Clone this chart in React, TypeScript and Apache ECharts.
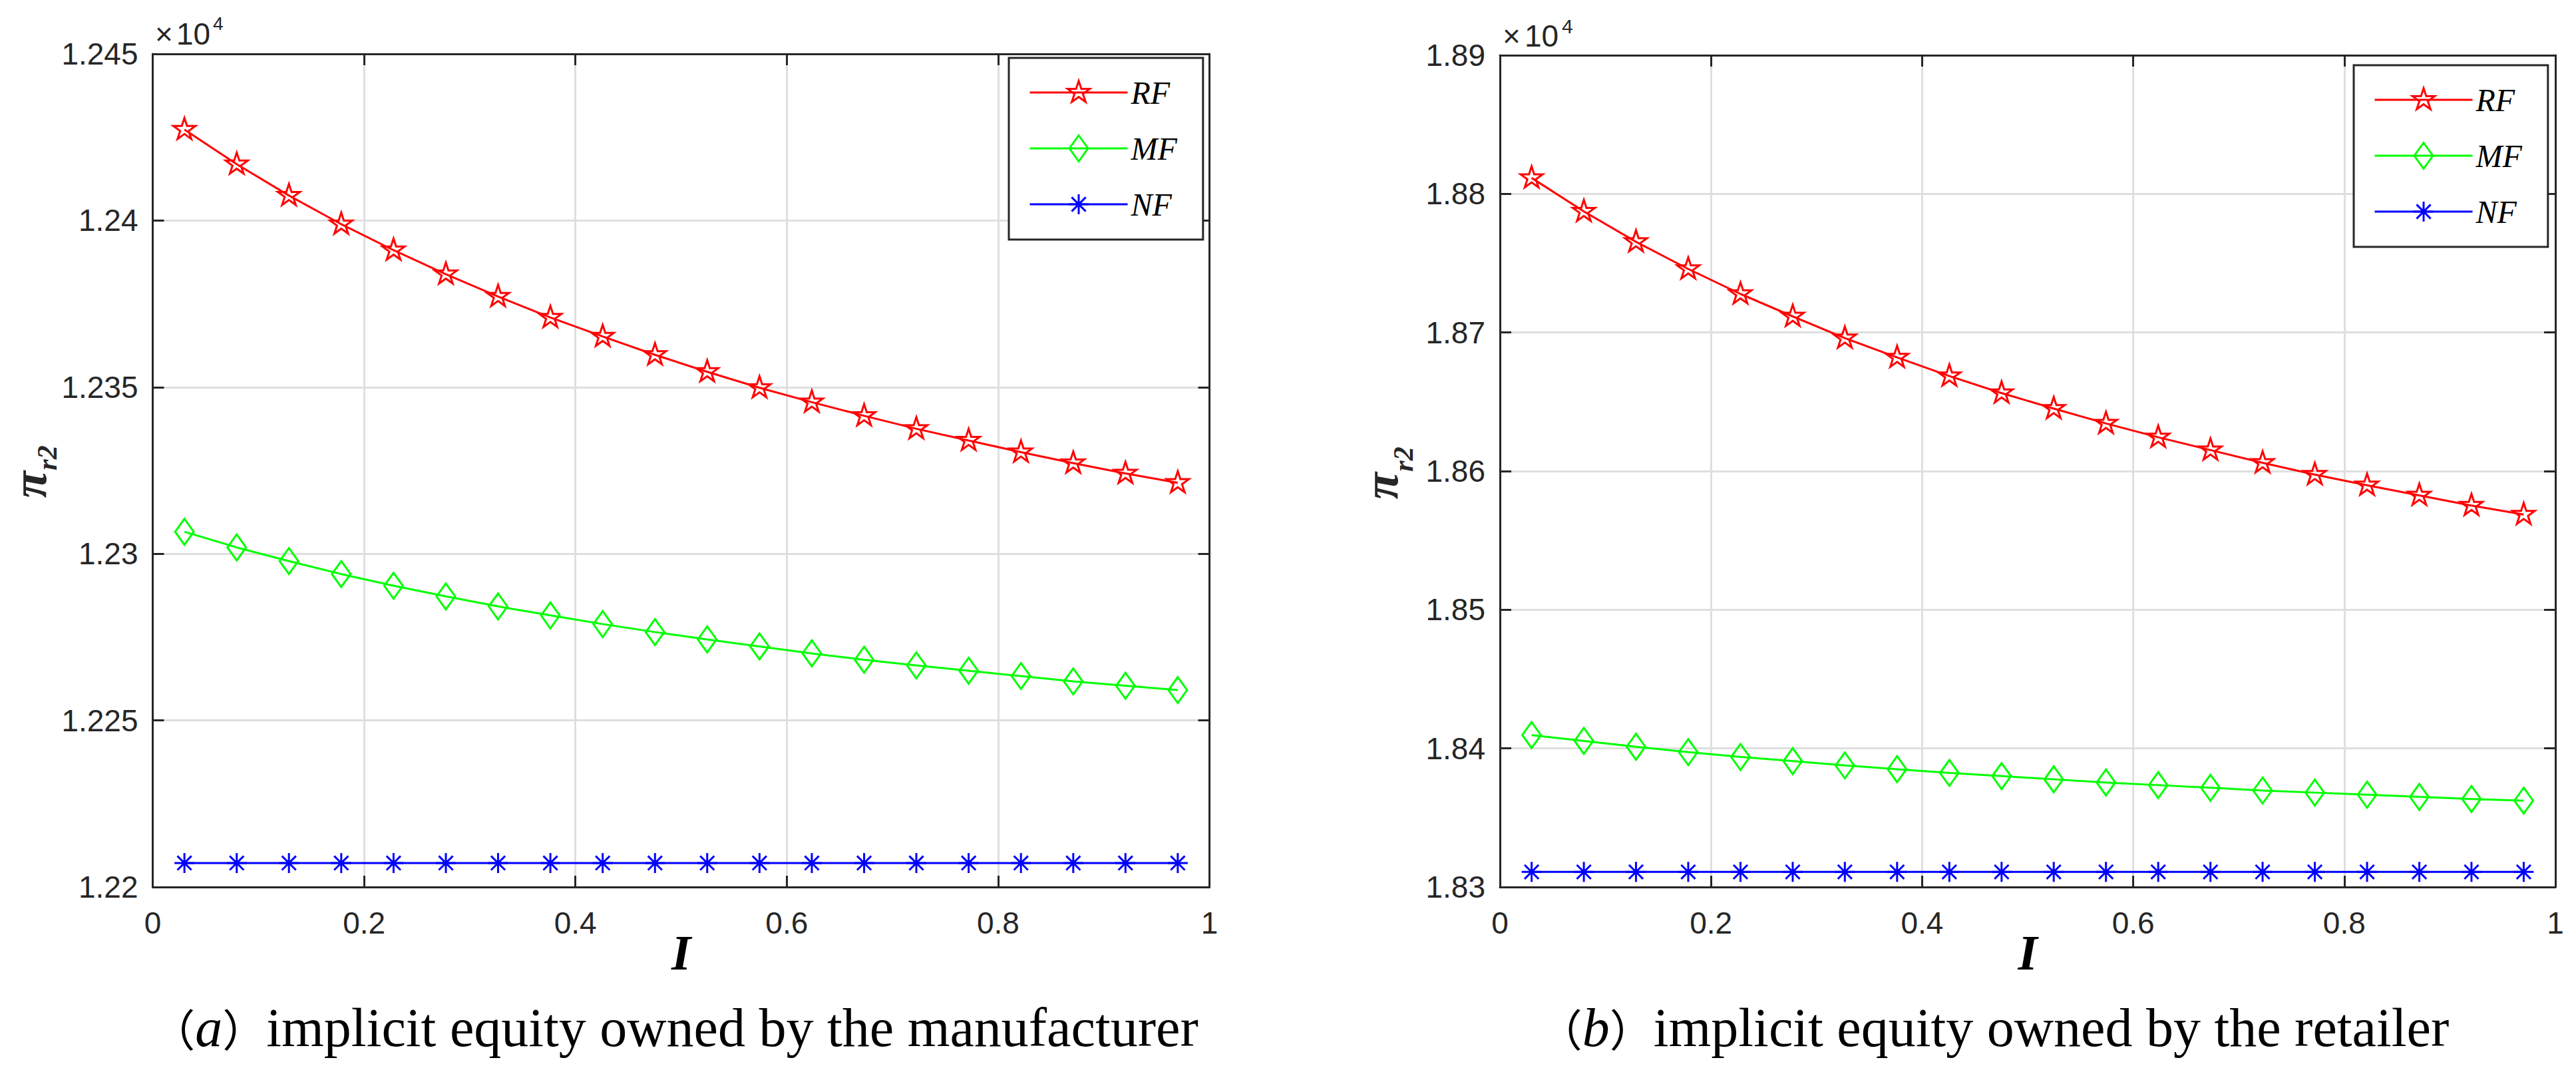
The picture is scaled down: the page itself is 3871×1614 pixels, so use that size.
import React, { useEffect, useRef } from 'react';
import * as echarts from 'echarts';

// implicit equity share I (x positions of the markers)
const xs = [
  0.03, 0.0795, 0.1289, 0.1784, 0.2279, 0.2774, 0.3268, 0.3763, 0.4258, 0.4753,
  0.5247, 0.5742, 0.6237, 0.6732, 0.7226, 0.7721, 0.8216, 0.8711, 0.9205, 0.97,
];

// (a) implicit equity owned by the manufacturer
const rfA = [
  12427.3, 12416.9, 12407.5, 12398.9, 12391.1, 12383.9, 12377.2, 12370.9, 12365.2, 12359.7,
  12354.6, 12349.8, 12345.5, 12341.4, 12337.5, 12334.0, 12330.5, 12327.2, 12324.1, 12321.3,
];
const mfA = [
  12306.6, 12301.9, 12297.8, 12293.9, 12290.4, 12287.2, 12284.2, 12281.5, 12278.9, 12276.5,
  12274.3, 12272.2, 12270.1, 12268.2, 12266.5, 12264.9, 12263.3, 12261.7, 12260.4, 12259.1,
];
const nfA = [
  12207.2, 12207.2, 12207.2, 12207.2, 12207.2, 12207.2, 12207.2, 12207.2, 12207.2, 12207.2,
  12207.2, 12207.2, 12207.2, 12207.2, 12207.2, 12207.2, 12207.2, 12207.2, 12207.2, 12207.2,
];

// (b) implicit equity owned by the retailer
const rfB = [
  18811.5, 18787.3, 18765.4, 18745.8, 18727.8, 18711.6, 18695.9, 18682.0, 18668.6, 18656.3,
  18645.1, 18634.4, 18624.4, 18615.2, 18606.0, 18597.5, 18589.8, 18582.5, 18575.2, 18568.7,
];
const mfB = [
  18409.6, 18405.4, 18401.2, 18397.3, 18393.8, 18390.8, 18387.7, 18385.0, 18382.3, 18380.0,
  18377.7, 18375.4, 18373.5, 18371.6, 18369.6, 18368.1, 18366.6, 18365.0, 18363.5, 18362.3,
];
const nfB = [
  18310.9, 18310.9, 18310.9, 18310.9, 18310.9, 18310.9, 18310.9, 18310.9, 18310.9, 18310.9,
  18310.9, 18310.9, 18310.9, 18310.9, 18310.9, 18310.9, 18310.9, 18310.9, 18310.9, 18310.9,
];

const seriesNames = ['RF', 'MF', 'NF'];
const seriesColors = ['#ff0000', '#00ff00', '#0000ff'];

// y axis ranges per panel: [min, max, interval]
const yRangeA = [12200, 12450, 50];
const yRangeB = [18300, 18900, 100];

const captionA = 'implicit equity owned by the manufacturer';
const captionB = 'implicit equity owned by the retailer';

// hollow MATLAB-like markers, padded to a 44x44 box so legend and plot match
const STAR =
  'path://M0 0M44 44M22 4.5L25.93 16.59L38.64 16.59L28.36 24.07L32.29 36.16L22 28.69L11.71 36.16L15.64 24.07L5.36 16.59L18.07 16.59Z';
const DIAMOND = 'path://M0 0M44 44M22 2.5L36 22L22 41.5L8 22Z';
const ASTERISK =
  'path://M0 0M44 44M22 7L22 37M11.4 11.4L32.6 32.6M32.6 11.4L11.4 32.6M7 22L37 22';
const symbols = [STAR, DIAMOND, ASTERISK];

const AXIS = '#262626';
const GRIDLINE = '#dfdfdf';

const xAxesFor = (gridIndex: number) => {
  const base: any = {
    gridIndex,
    type: 'value',
    min: 0,
    max: 1,
    interval: 0.2,
    axisLine: { onZero: false, lineStyle: { color: AXIS, width: 3 } },
    axisTick: { inside: true, length: 17, lineStyle: { color: AXIS, width: 3 } },
  };
  return [
    {
      ...base,
      position: 'bottom',
      axisLabel: {
        margin: 31,
        fontSize: 46,
        fontFamily: 'Liberation Sans',
        color: AXIS,
        showMinLabel: true,
        showMaxLabel: true,
      },
      splitLine: { show: true, showMinLine: false, showMaxLine: false, lineStyle: { color: GRIDLINE, width: 3 } },
      name: 'I',
      nameLocation: 'middle',
      nameGap: 61,
      nameMoveOverlap: false,
      nameTextStyle: {
        fontFamily: 'Liberation Serif',
        fontStyle: 'italic',
        fontWeight: 'bold',
        fontSize: 75,
        color: '#000',
      },
    },
    { ...base, position: 'top', axisLabel: { show: false }, splitLine: { show: false } },
  ];
};

const yAxesFor = (gridIndex: number, range: number[]) => {
  const base: any = {
    gridIndex,
    type: 'value',
    min: range[0],
    max: range[1],
    interval: range[2],
    axisLine: { onZero: false, lineStyle: { color: AXIS, width: 3 } },
    axisTick: { inside: true, length: 17, lineStyle: { color: AXIS, width: 3 } },
  };
  return [
    {
      ...base,
      position: 'left',
      axisLabel: {
        margin: 22,
        fontSize: 46,
        fontFamily: 'Liberation Sans',
        color: AXIS,
        showMinLabel: true,
        showMaxLabel: true,
        formatter: (v: number) => String(v / 1e4),
      },
      splitLine: { show: true, showMinLine: false, showMaxLine: false, lineStyle: { color: GRIDLINE, width: 3 } },
    },
    { ...base, position: 'right', axisLabel: { show: false }, splitLine: { show: false } },
  ];
};

const legendFor = (left: number, top: number) => ({
  left,
  top,
  orient: 'vertical',
  selectedMode: false,
  itemWidth: 147,
  itemHeight: 55,
  itemGap: 36,
  padding: [28, 39, 29, 30],
  backgroundColor: '#fff',
  borderColor: AXIS,
  borderWidth: 3,
  textStyle: { fontFamily: 'Liberation Serif', fontStyle: 'italic', fontSize: 48, color: '#000' },
  data: seriesNames.map((name, i) => ({
    name,
    itemStyle: { color: 'transparent', borderColor: seriesColors[i], borderWidth: 3 },
    lineStyle: { color: seriesColors[i], width: 3 },
  })),
});

const textEl = (x: number, y: number, text: string, fontSize: number, extra: any = {}) => ({
  type: 'text',
  x,
  y,
  silent: true,
  ...extra,
  style: {
    text,
    fontFamily: 'Liberation Sans',
    fontSize,
    fill: AXIS,
    align: 'left',
    verticalAlign: 'middle',
    ...(extra.style || {}),
  },
});

const captionEl = (x: number, letter: string, text: string) => ({
  type: 'text',
  x,
  y: 1544,
  silent: true,
  style: {
    text: `{p|（}{i|${letter}}{p|）}{t|${text}}`,
    align: 'center',
    verticalAlign: 'middle',
    fill: '#000',
    rich: {
      p: { fontFamily: 'Noto Sans CJK SC', fontSize: 66, fill: '#000' },
      i: { fontFamily: 'Liberation Serif', fontStyle: 'italic', fontSize: 82, fill: '#000' },
      t: { fontFamily: 'Liberation Serif', fontSize: 82, fill: '#000' },
    },
  },
});

// rotated y-axis name: bold italic pi with subscript r2
const yNameEls = (piX: number, piY: number, subX: number, subY: number) => [
  textEl(piX, piY, 'π', 74, {
    rotation: Math.PI / 2,
    style: {
      fontFamily: 'Liberation Serif',
      fontStyle: 'italic',
      fontWeight: 'bold',
      align: 'center',
    },
  }),
  textEl(subX, subY, 'r2', 42, {
    rotation: Math.PI / 2,
    style: {
      fontFamily: 'Liberation Serif',
      fontStyle: 'italic',
      fontWeight: 'bold',
      align: 'center',
    },
  }),
];

const App: React.FC = () => {
  const chartRef = useRef<HTMLDivElement>(null);

  useEffect(() => {
    if (!chartRef.current) return;
    document.body.style.margin = '0';
    const chart = echarts.init(chartRef.current, undefined, { renderer: 'svg' });

    const panels = [
      { rf: rfA, mf: mfA, nf: nfA },
      { rf: rfB, mf: mfB, nf: nfB },
    ];

    const series: any[] = [];
    panels.forEach((p, pi) => {
      [p.rf, p.mf, p.nf].forEach((ys, si) => {
        series.push({
          type: 'line',
          name: seriesNames[si],
          xAxisIndex: pi * 2,
          yAxisIndex: pi * 2,
          data: xs.map((x, i) => [x, ys[i]]),
          symbol: symbols[si],
          symbolSize: 44,
          showSymbol: true,
          showAllSymbol: true,
          lineStyle: { color: seriesColors[si], width: 3 },
          itemStyle: { color: 'transparent', borderColor: seriesColors[si], borderWidth: 3 },
          emphasis: { disabled: true },
        });
      });
    });

    const option: any = {
      animation: false,
      backgroundColor: '#fff',
      grid: [
        { left: 229.5, top: 81, width: 1588, height: 1252, outerBoundsMode: 'none' },
        { left: 2254, top: 83, width: 1586, height: 1250, outerBoundsMode: 'none' },
      ],
      xAxis: [...xAxesFor(0), ...xAxesFor(1)],
      yAxis: [...yAxesFor(0, yRangeA), ...yAxesFor(1, yRangeB)],
      legend: [legendFor(1516, 87), legendFor(3537, 98)],
      series,
      graphic: [
        // x10^4 exponent labels
        textEl(233, 51, '×', 46),
        textEl(265, 51, '10', 46),
        textEl(320, 35, '4', 28),
        textEl(2258, 54, '×', 46),
        textEl(2291, 54, '10', 46),
        textEl(2347, 39, '4', 30),
        // y axis names
        ...yNameEls(44, 728, 71, 688),
        ...yNameEls(2075, 730, 2109, 690),
        // captions
        captionEl(1014, 'a', captionA),
        captionEl(2996, 'b', captionB),
      ],
    };

    chart.setOption(option);

    return () => {
      chart.dispose();
    };
  }, []);

  return (
    <div
      ref={chartRef}
      style={{ position: 'absolute', left: 0, top: 0, width: '3871px', height: '1614px' }}
    />
  );
};

export default App;
